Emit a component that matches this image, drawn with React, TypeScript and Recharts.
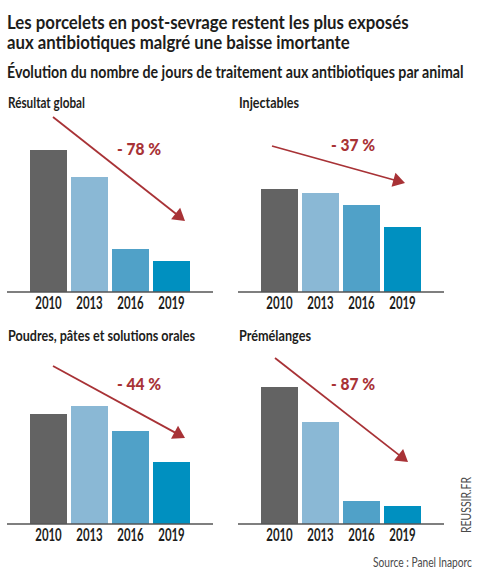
import { BarChart, Bar, XAxis, YAxis, Cell } from 'recharts';

const years = ['2010', '2013', '2016', '2019'];
const globalValues = [142, 115, 43, 31];
const injectableValues = [103, 99, 87, 65];
const oralValues = [110, 118, 93, 62];
const premixValues = [137, 102, 23, 18];

const barColors = ['#636363', '#8ab8d5', '#50a1c8', '#0090c0'];
const RED = '#a83236';
const INK = '#1d1d1b';
const FONT = 'Lato, sans-serif';

// left / top of each plot, arrow ends, and text placement
const panels = [
  { title: 'Résultat global', titleW: 77, values: globalValues, left: 7, top: 132, arrow: [53, 117, 185, 221], pct: '- 78 %', pctX: 117, pctY: 155 },
  { title: 'Injectables', titleW: 60, values: injectableValues, left: 238, top: 132, arrow: [272, 146, 405, 183], pct: '- 37 %', pctX: 331, pctY: 151 },
  { title: 'Poudres, pâtes et solutions orales', titleW: 187, values: oralValues, left: 7, top: 364, arrow: [53, 366, 185, 438], pct: '- 44 %', pctX: 117, pctY: 390 },
  { title: 'Prémélanges', titleW: 72, values: premixValues, left: 238, top: 364, arrow: [275, 358, 408, 462], pct: '- 87 %', pctX: 331, pctY: 390 },
];

const measure = document.createElement('canvas').getContext('2d')!;

// squeezes the text horizontally to the width it has in the picture
function Fit({ x, y, w, size, weight = 700, fill = INK, rotate = 0, anchor = 'start', children }: any) {
  measure.font = `${weight} ${size}px Lato`;
  const sx = w / measure.measureText(children).width;
  return (
    <text
      transform={`translate(${x},${y}) rotate(${rotate}) scale(${sx},1)`}
      textAnchor={anchor}
      fontFamily={FONT}
      fontSize={size}
      fontWeight={weight}
      fill={fill}
    >
      {children}
    </text>
  );
}

function Arrow({ pts }: { pts: number[] }) {
  const [x1, y1, x2, y2] = pts;
  const a = Math.atan2(y2 - y1, x2 - x1);
  const len = 14;
  const spread = 0.55;
  const bx = x2 - Math.cos(a) * len * 0.8;
  const by = y2 - Math.sin(a) * len * 0.8;
  const head = [
    [x2, y2],
    [x2 - Math.cos(a - spread) * len, y2 - Math.sin(a - spread) * len],
    [x2 - Math.cos(a + spread) * len, y2 - Math.sin(a + spread) * len],
  ];
  return (
    <g>
      <line x1={x1} y1={y1} x2={bx} y2={by} stroke={RED} strokeWidth={1.8} />
      <polygon points={head.map((p) => p.join(',')).join(' ')} fill={RED} />
    </g>
  );
}

function YearTick({ x, y, payload }: any) {
  return (
    <Fit x={x} y={y + 9} w={26.5} size={17} anchor="middle">
      {payload.value}
    </Fit>
  );
}

function Panel({ values, left, top }: { values: number[]; left: number; top: number }) {
  const data = years.map((year, i) => ({ year, value: values[i] }));
  return (
    <div style={{ position: 'absolute', left, top }}>
      <BarChart width={206} height={186} data={data} margin={{ top: 0, right: 0, bottom: 0, left: 0 }} barCategoryGap={2}>
        <YAxis hide domain={[0, 160]} />
        <XAxis
          dataKey="year"
          height={26}
          padding={{ left: 21, right: 21 }}
          tickLine={false}
          axisLine={{ stroke: '#555555', strokeWidth: 1.4 }}
          tick={<YearTick />}
          interval={0}
        />
        <Bar dataKey="value" barSize={37} isAnimationActive={false}>
          {data.map((d, i) => (
            <Cell key={d.year} fill={barColors[i]} />
          ))}
        </Bar>
      </BarChart>
    </div>
  );
}

export default function App() {
  return (
    <div style={{ position: 'absolute', left: 0, top: 0, width: 499, height: 576, background: '#fff', overflow: 'hidden' }}>
      {panels.map((p) => (
        <Panel key={p.title} values={p.values} left={p.left} top={p.top} />
      ))}
      <svg width={499} height={576} style={{ position: 'absolute', left: 0, top: 0 }}>
        <Fit x={7} y={29} w={402} size={18.5}>Les porcelets en post-sevrage restent les plus exposés</Fit>
        <Fit x={7} y={49} w={343} size={18.5}>aux antibiotiques malgré une baisse imortante</Fit>
        <Fit x={7} y={78} w={457} size={17.5}>Évolution du nombre de jours de traitement aux antibiotiques par animal</Fit>
        {panels.map((p) => (
          <g key={p.title}>
            <Fit x={p.left === 7 ? 8 : 239} y={p.top < 300 ? 108 : 341} w={p.titleW} size={15.5}>{p.title}</Fit>
            <Arrow pts={p.arrow} />
            <Fit x={p.pctX} y={p.pctY} w={44} size={17} weight={900} fill={RED}>{p.pct}</Fit>
          </g>
        ))}
        <Fit x={373} y={567} w={99} size={12.5} weight={400} fill="#4a4a4a">Source : Panel Inaporc</Fit>
        <Fit x={471} y={533} w={56} size={12.5} weight={400} fill="#4a4a4a" rotate={-90}>REUSSIR.FR</Fit>
      </svg>
    </div>
  );
}
